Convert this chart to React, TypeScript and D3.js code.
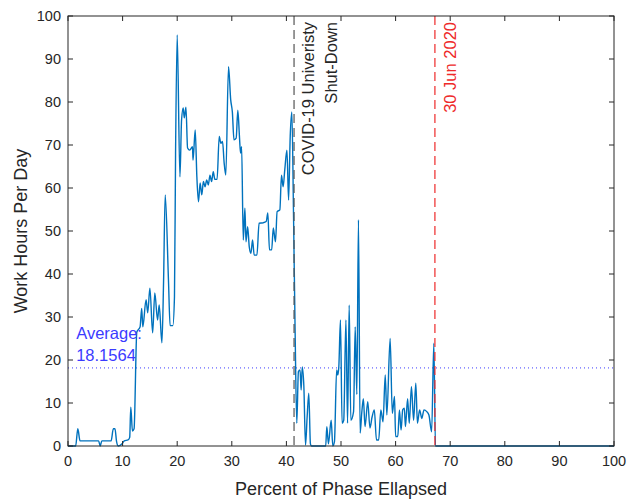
import { useEffect, useRef } from 'react'
import * as d3 from 'd3'

// percent of phase elapsed / work hours per day
const phasePct = [
  0, 1.4, 1.8, 2.2, 5.6, 5.9, 6.2, 7.9, 8.3, 8.6, 8.9, 9.2, 9.9, 10.3, 11, 11.3, 11.5, 11.8, 12.1,
  12.6, 13.2, 13.5, 13.7, 14.3, 14.6, 15, 15.5, 15.9, 16.4, 16.7, 17.2, 17.5, 17.8, 18.4, 18.7, 19.2,
  19.5, 19.7, 20, 20.5, 20.8, 21.1, 21.3, 21.6, 21.9, 22.3, 22.8, 22.9, 23.3, 23.6, 23.9, 24.2, 24.5,
  24.8, 25.1, 25.4, 25.7, 26, 26.3, 26.6, 26.9, 27.3, 27.7, 28, 28.3, 28.6, 28.9, 29.4, 29.8, 30.1,
  30.4, 30.8, 31.1, 31.4, 31.6, 31.8, 32.1, 32.4, 32.6, 32.9, 33.2, 33.5, 33.8, 34.1, 34.6, 35, 35.7,
  36.3, 36.6, 36.9, 37.3, 37.6, 38, 38.3, 38.8, 39.1, 39.4, 39.7, 40.1, 40.4, 40.7, 41, 41.3, 41.6,
  41.9, 42.2, 42.5, 42.7, 42.9, 43.2, 43.5, 43.8, 44.1, 44.4, 44.6, 47.2, 47.4, 47.7, 48.2, 48.5, 48.8,
  49.2, 49.4, 49.6, 49.9, 50.2, 50.5, 50.9, 51.2, 51.5, 51.8, 52.3, 52.6, 52.9, 53.2, 53.5, 53.8,
  54.1, 54.4, 54.9, 55.3, 55.7, 56.1, 56.5, 56.9, 57.3, 57.7, 58.1, 58.4, 59, 59.4, 59.8, 60, 60.4,
  60.7, 61, 61.3, 61.6, 61.8, 62.2, 62.5, 62.9, 63.3, 63.7, 64, 64.4, 64.8, 65.2, 65.7, 66.1, 66.6,
  67, 67.3, 100,
]
const workHours = [
  0, 0, 4, 1.2, 1.2, 0, 1.2, 1.2, 4, 4, 1, 0, 0.5, 1.2, 1.4, 2, 9, 3.5, 4,
  26.5, 27.7, 32, 27.7, 34, 31, 36.7, 26.3, 35.6, 29.3, 32.8, 24, 38, 58.4, 38.6, 28, 28,
  34.7, 68, 95.6, 62.6, 75.8, 78.6, 76.3, 78.8, 69.3, 68.8, 69.6, 66.5, 73.5, 62.6, 56.8, 61.2, 58.4,
  61.5, 60.3, 61.9, 60.7, 63, 61.5, 63.8, 62, 62, 72, 70.4, 70.8, 65.8, 63, 88.2, 80.5, 77.7,
  71.2, 71.6, 78.1, 72, 68.1, 69.6, 47.9, 55.3, 47.5, 51, 46.3, 44.8, 47.9, 44.4, 44.4, 51.8, 51.9,
  52.2, 54.2, 45.6, 45.6, 50.7, 47.5, 54.5, 54.9, 63, 60.3, 64.2, 68.8, 57.2, 72, 77.7, 54.2, 26.3,
  5.3, 17.3, 17.7, 13, 18.4, 13.8, 0.2, 6.8, 12.3, 0.5, 0, 0, 4.5, 0.5, 6, 0, 1,
  17.7, 16.5, 18.4, 29.3, 5.3, 6, 29.3, 5.3, 32.8, 6, 8, 27.7, 12, 52.6, 3, 7.7,
  11, 4.5, 10.3, 4.2, 6.8, 8.4, 1.4, 1.4, 8.4, 5.6, 16.5, 7.2, 25, 7.6, 11.5, 2.2, 2.2,
  8.4, 3.7, 8.4, 8.8, 4.5, 11, 5.3, 13.8, 6, 14.6, 5.3, 8.4, 6.4, 8.4, 8, 7.2, 3.3,
  23.9, 0, 0,
]
const averageHours = 18.1564
const shutdownPct = 41.4
const deadlinePct = 67.2
const xTicks = [0, 10, 20, 30, 40, 50, 60, 70, 80, 90, 100]
const yTicks = [0, 10, 20, 30, 40, 50, 60, 70, 80, 90, 100]

export default function App() {
  const svgRef = useRef<SVGSVGElement>(null)

  useEffect(() => {
    if (!svgRef.current) return
    const width = 629
    const height = 499
    const margin = { top: 16, right: 15, bottom: 53, left: 68 }
    const axisColor = '#262626'
    const font = 'Liberation Sans, Arial, Helvetica, sans-serif'

    const svg = d3.select(svgRef.current)
    svg.selectAll('*').remove()

    const x = d3.scaleLinear().domain([0, 100]).range([margin.left, width - margin.right])
    const y = d3.scaleLinear().domain([0, 100]).range([height - margin.bottom, margin.top])

    const g = svg.append('g')

    // average line
    g.append('line')
      .attr('x1', x(0)).attr('x2', x(100))
      .attr('y1', y(averageHours)).attr('y2', y(averageHours))
      .attr('stroke', '#3b3bff').attr('stroke-width', 1)
      .attr('stroke-dasharray', '1,3')

    // data line
    const pts = phasePct.map((p, i) => [p, workHours[i]] as [number, number])
    g.append('path')
      .datum(pts)
      .attr('d', d3.line<[number, number]>()
        .x(d => x(d[0]))
        .y(d => y(d[1]))
        .curve(d3.curveMonotoneX))
      .attr('fill', 'none')
      .attr('stroke', '#0072BD')
      .attr('stroke-width', 1.4)

    // event lines
    g.append('line')
      .attr('x1', x(shutdownPct)).attr('x2', x(shutdownPct))
      .attr('y1', y(100)).attr('y2', y(0))
      .attr('stroke', '#555').attr('stroke-width', 1.2)
      .attr('stroke-dasharray', '9,5')
    g.append('line')
      .attr('x1', x(deadlinePct)).attr('x2', x(deadlinePct))
      .attr('y1', y(100)).attr('y2', y(0))
      .attr('stroke', '#ee2a2a').attr('stroke-width', 1.2)
      .attr('stroke-dasharray', '9,5')

    // annotations
    const rotText = (px: number, label: string, color: string) => {
      g.append('text')
        .attr('transform', `translate(${px},22) rotate(-90)`)
        .attr('text-anchor', 'end')
        .attr('fill', color)
        .attr('font-size', '16.5px')
        .attr('font-family', font)
        .text(label)
    }
    rotText(x(shutdownPct) + 20, 'COVID-19 Univeristy', axisColor)
    rotText(x(shutdownPct) + 43, 'Shut-Down', axisColor)
    rotText(x(deadlinePct) + 21, '30 Jun 2020', '#ee2a2a')

    g.append('text')
      .attr('x', x(1.5)).attr('y', y(averageHours) - 29)
      .attr('fill', '#3b3bff').attr('font-size', '16.5px').attr('font-family', font)
      .text('Average:')
    g.append('text')
      .attr('x', x(1.5)).attr('y', y(averageHours) - 7)
      .attr('fill', '#3b3bff').attr('font-size', '16.5px').attr('font-family', font)
      .text(averageHours.toFixed(4))

    // box
    g.append('rect')
      .attr('x', x(0)).attr('y', y(100))
      .attr('width', x(100) - x(0)).attr('height', y(0) - y(100))
      .attr('fill', 'none').attr('stroke', axisColor).attr('stroke-width', 1)

    const tickLen = 5
    xTicks.forEach(t => {
      g.append('line')
        .attr('x1', x(t)).attr('x2', x(t))
        .attr('y1', y(0)).attr('y2', y(0) - tickLen)
        .attr('stroke', axisColor)
      g.append('line')
        .attr('x1', x(t)).attr('x2', x(t))
        .attr('y1', y(100)).attr('y2', y(100) + tickLen)
        .attr('stroke', axisColor)
      g.append('text')
        .attr('x', x(t)).attr('y', y(0) + 20)
        .attr('text-anchor', 'middle')
        .attr('fill', axisColor).attr('font-size', '14.5px').attr('font-family', font)
        .text(String(t))
    })
    yTicks.forEach(t => {
      g.append('line')
        .attr('x1', x(0)).attr('x2', x(0) + tickLen)
        .attr('y1', y(t)).attr('y2', y(t))
        .attr('stroke', axisColor)
      g.append('line')
        .attr('x1', x(100)).attr('x2', x(100) - tickLen)
        .attr('y1', y(t)).attr('y2', y(t))
        .attr('stroke', axisColor)
      g.append('text')
        .attr('x', x(0) - 7).attr('y', y(t) + 5)
        .attr('text-anchor', 'end')
        .attr('fill', axisColor).attr('font-size', '14.5px').attr('font-family', font)
        .text(String(t))
    })

    // axis labels
    g.append('text')
      .attr('x', (x(0) + x(100)) / 2).attr('y', 495)
      .attr('text-anchor', 'middle')
      .attr('fill', axisColor).attr('font-size', '18px').attr('font-family', font)
      .text('Percent of Phase Ellapsed')
    g.append('text')
      .attr('transform', `translate(27,${(y(0) + y(100)) / 2}) rotate(-90)`)
      .attr('text-anchor', 'middle')
      .attr('fill', axisColor).attr('font-size', '18px').attr('font-family', font)
      .text('Work Hours Per Day')
  }, [])

  return (
    <svg
      ref={svgRef}
      width={629}
      height={499}
      style={{ position: 'absolute', left: 0, top: 0, background: '#fff' }}
    />
  )
}
